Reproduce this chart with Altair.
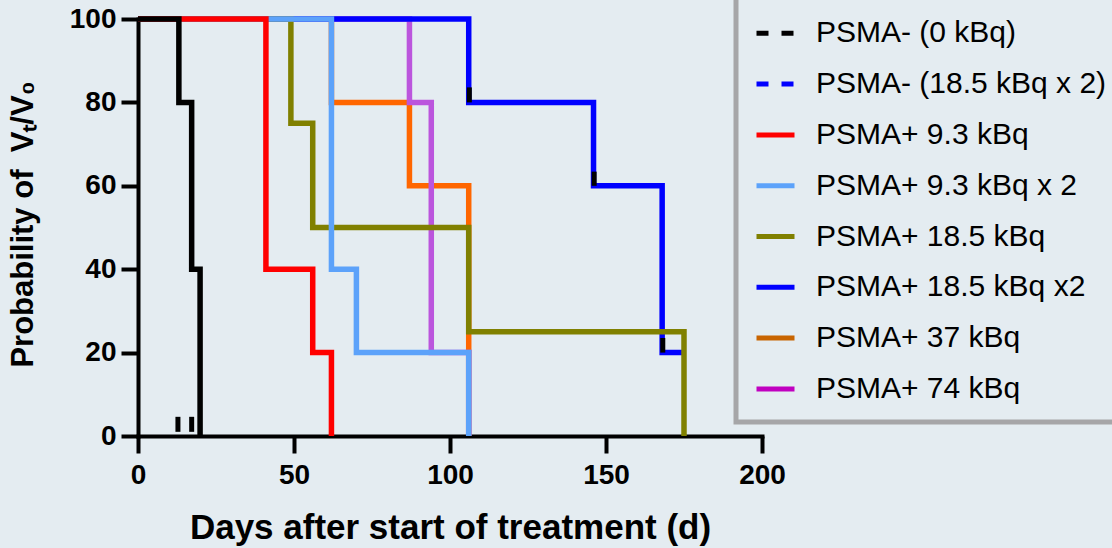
import altair as alt
import pandas as pd

# ---------------- data ----------------
legend_names = [
    "PSMA+ (0 kBq)",
    "PSMA- (0 kBq)",
    "PSMA- (18.5 kBq x 2)",
    "PSMA+ 9.3 kBq",
    "PSMA+ 9.3 kBq x 2",
    "PSMA+ 18.5 kBq",
    "PSMA+ 18.5 kBq x2",
    "PSMA+ 37 kBq",
    "PSMA+ 74 kBq",
]
legend_colors = ["#000000", "#000000", "#0000ff", "#ff0000", "#5ca2fa",
                 "#808000", "#0000ff", "#c86400", "#c000c0"]
legend_dashes = [[1, 0], [12, 13], [12, 13], [1, 0], [1, 0],
                 [1, 0], [1, 0], [1, 0], [1, 0]]

# survival step curves (day at which the value changes, value after change)
orange_days = [0, 62, 87, 106]
orange_vals = [100, 80, 60, 0]
purple_days = [0, 87, 94, 106]
purple_vals = [100, 80, 20, 0]
blue_days = [0, 106, 146, 168, 175]
blue_vals = [100, 80, 60, 20, 20]
olive_days = [0, 49, 56, 106, 175]
olive_vals = [100, 75, 50, 25, 0]
lightblue_days = [0, 62, 70, 106]
lightblue_vals = [100, 40, 20, 0]
red_days = [0, 41, 56, 62]
red_vals = [100, 40, 20, 0]
black_days = [0, 13.1, 17.2, 19.9]
black_vals = [100, 80, 40, 0]

# censored-subject ticks
censor_days = [12.8, 17.2, 106.2, 146.2, 168.2]
censor_low = [1.0, 1.0, 80, 60, 20]
censor_high = [4.6, 4.6, 83.6, 63.4, 23.5]

curves = [
    ("PSMA+ 37 kBq", "#ff6600", orange_days, orange_vals),
    ("PSMA+ 74 kBq", "#bb55dd", purple_days, purple_vals),
    ("PSMA+ 18.5 kBq x2", "#0000ff", blue_days, blue_vals),
    ("PSMA+ 18.5 kBq", "#808000", olive_days, olive_vals),
    ("PSMA+ 9.3 kBq x 2", "#5ca2fa", lightblue_days, lightblue_vals),
    ("PSMA+ 9.3 kBq", "#ff0000", red_days, red_vals),
    ("PSMA+ (0 kBq)", "#000000", black_days, black_vals),
]

# ---------------- chart ----------------
FONT = "Liberation Sans"
xscale = alt.Scale(domain=[0, 200], nice=False, zero=False)
yscale = alt.Scale(domain=[0, 100], nice=False)

xaxis = alt.Axis(
    values=[0, 50, 100, 150, 200], title="Days after start of treatment (d)",
    grid=False, domainColor="black", domainWidth=4, domainCap="square",
    tickColor="black", tickWidth=4, tickSize=17,
    labelFont=FONT, labelFontSize=28, labelFontWeight="bold", labelColor="black",
    labelPadding=8, labelFlush=False,
    titleFont=FONT, titleFontSize=35, titleFontWeight="bold", titleColor="black",
    titleBaseline="middle", titleY=91,
)
yaxis = alt.Axis(
    values=[0, 20, 40, 60, 80, 100], title="Probability of\u00a0 V\u209c/V\u2080",
    grid=False, domainColor="black", domainWidth=4, domainCap="square",
    tickColor="black", tickWidth=4, tickSize=17,
    labelFont=FONT, labelFontSize=28, labelFontWeight="bold", labelColor="black",
    labelPadding=5, labelFlush=False,
    titleFont=FONT, titleFontSize=31, titleFontWeight="bold", titleColor="black",
    titleX=-99, titleY=205,
)

layers = []
for name, col, days, vals in curves:
    df = pd.DataFrame({"day": days, "prob": vals, "series": name})
    layers.append(
        alt.Chart(df).mark_line(interpolate="step-after", color=col, strokeWidth=5.5)
        .encode(x=alt.X("day:Q", scale=xscale, axis=xaxis),
                y=alt.Y("prob:Q", scale=yscale, axis=yaxis))
    )

cens = pd.DataFrame({"day": censor_days, "lo": censor_low, "hi": censor_high})
layers.append(
    alt.Chart(cens).mark_rule(color="black", strokeWidth=5)
    .encode(x=alt.X("day:Q", scale=xscale, axis=xaxis),
            y=alt.Y("lo:Q", scale=yscale, axis=yaxis), y2="hi:Q")
)

# legend-only layer (points lie outside the x domain and are clipped)
leg_rows = []
for n in legend_names:
    leg_rows.append({"day": -60, "prob": 50, "series": n})
    leg_rows.append({"day": -50, "prob": 50, "series": n})
leg_df = pd.DataFrame(leg_rows)
legend = alt.Legend(title=None, orient="none", legendX=598, legendY=-76,
                    strokeColor="#a6a6a8", padding=18, rowPadding=13.8,
                    symbolType="stroke", symbolSize=1444, symbolStrokeWidth=5,
                    labelFont=FONT, labelFontSize=30, labelColor="black",
                    labelOffset=19, labelLimit=600)
layers.append(
    alt.Chart(leg_df).mark_line(clip=True, strokeWidth=5)
    .encode(x=alt.X("day:Q", scale=xscale, axis=xaxis),
            y=alt.Y("prob:Q", scale=yscale, axis=yaxis),
            color=alt.Color("series:N", scale=alt.Scale(domain=legend_names, range=legend_colors), legend=legend),
            strokeDash=alt.StrokeDash("series:N", scale=alt.Scale(domain=legend_names, range=legend_dashes), legend=legend))
)

chart = (
    alt.layer(*layers)
    .properties(width=624, height=417, background="#e4ecf1",
                autosize=alt.AutoSizeParams(type="none"),
                padding={"left": 138, "top": 19, "right": 350, "bottom": 112})
    .configure_view(stroke=None)
    .configure_legend(strokeWidth=5)
)

chart.save("out.html", embed_options={"renderer": "svg", "actions": False})
